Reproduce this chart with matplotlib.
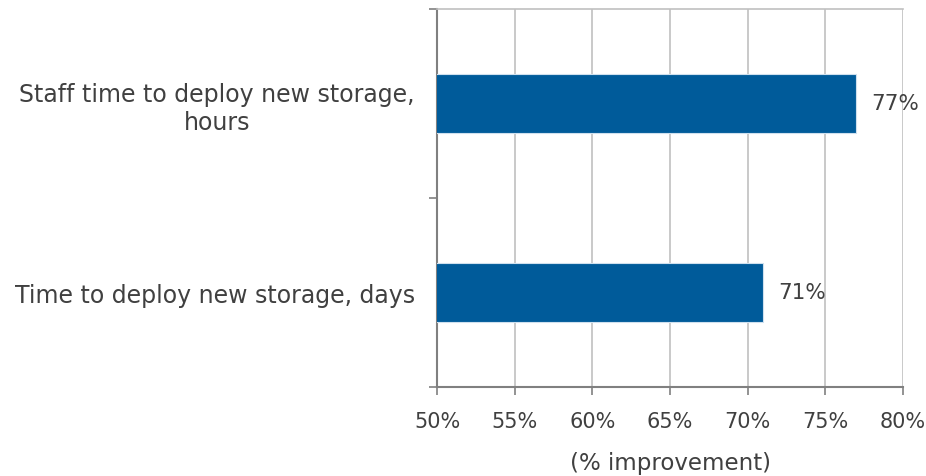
import numpy as np
import matplotlib.pyplot as plt
from matplotlib.ticker import FixedLocator, PercentFormatter

categories = ["Time to deploy new storage, days", "Staff time to deploy new storage,\nhours"]
values = [71, 77]
xticks = [50, 55, 60, 65, 70, 75, 80]

bar_color = "#005b9a"
text_color = "#404040"

plt.rcParams["font.family"] = ["DejaVu Sans"]

fig = plt.figure(figsize=(9.26, 4.77), dpi=100)
ax = fig.add_axes([437 / 926, 1 - 388 / 477, (903 - 437) / 926, (388 - 10) / 477])

y = np.arange(len(categories))
ax.barh(y, values, height=0.31, color=bar_color, edgecolor="#cfe0ee", linewidth=0.8, zorder=3)

for yi, v in zip(y, values):
    ax.text(v + 0.95, yi, f"{v}%", va="center", ha="left", fontsize=15.5, color=text_color, zorder=4)

ax.set_xlim(50, 80)
ax.set_ylim(-0.5, 1.5)
ax.set_xticks(xticks)
ax.xaxis.set_major_formatter(PercentFormatter(decimals=0))
ax.set_yticks(y)
ax.set_yticklabels(categories, fontsize=17, color=text_color)
for lab in ax.get_yticklabels():
    lab.set_multialignment("center")
ax.yaxis.set_minor_locator(FixedLocator([-0.5, 0.5, 1.5]))
ax.tick_params(axis="y", which="major", length=0, pad=16)
ax.tick_params(axis="y", which="minor", length=6, width=1.2, color="#808080")
ax.tick_params(axis="x", length=6, width=1.2, color="#808080", labelsize=15, labelcolor=text_color, pad=11)
ax.set_xlabel("(% improvement)", fontsize=16.5, color=text_color, labelpad=15)

ax.grid(axis="x", color="#c0c0c0", linewidth=1.2, zorder=0)
for side in ["left", "bottom"]:
    ax.spines[side].set_color("#808080")
    ax.spines[side].set_linewidth(1.5)
ax.spines["top"].set_color("#c0c0c0")
ax.spines["top"].set_linewidth(1.2)
ax.spines["right"].set_visible(False)

fig.savefig("out.png", dpi=100)
